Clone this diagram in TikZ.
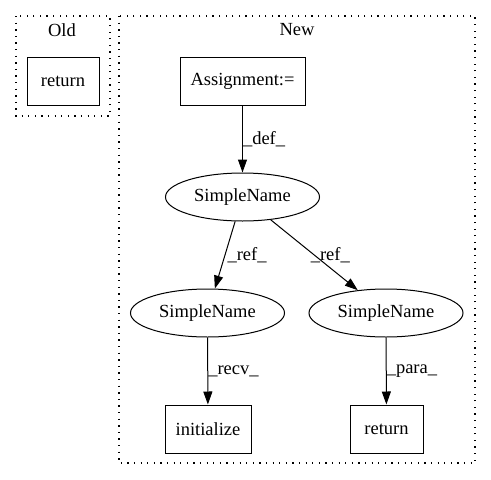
\documentclass[tikz,border=0pt]{standalone}
\usepackage{fontspec}
\setmainfont{Liberation Serif}
\usepackage{tikz}
\usetikzlibrary{shapes,arrows.meta,positioning,calc}

\begin{document}
\begin{tikzpicture}[x=1pt, y=-1pt, font=\fontsize{18.5}{21}\selectfont, line width=1pt,
    box/.style={rectangle, draw, minimum height=48pt, inner sep=0pt},
    sname/.style={ellipse, draw, minimum width=154pt, minimum height=48pt, inner sep=0pt},
    cluster/.style={draw, line width=1.3pt, dash pattern=on 1.3pt off 5.3pt},
    arrow/.style={-{Triangle[length=13pt,width=9pt]}},
    lbl/.style={right, inner sep=0pt}]

    \useasboundingbox (0,0) rectangle (491,480);

    % clusters
    \draw[cluster] (16,16) rectangle (110,116);
    \draw[cluster] (119,16) rectangle (475,463);
    \node (oldlbl) at (62,30) {Old};
    \node (newlbl) at (297,30) {New};

    \node[box, minimum width=72pt] (oldret) at (63,81) {return};

    \node[box, minimum width=125pt] (assign) at (242.5,81) {Assignment:=};
    \node[sname] (sntop) at (242.5,197) {SimpleName};
    \node[sname] (snleft) at (207.5,313) {SimpleName};
    \node[sname] (snright) at (386,313) {SimpleName};
    \node[box, minimum width=86pt] (init) at (208,429) {initialize};
    \node[box, minimum width=73pt] (ret) at (386.5,429) {return};

    \draw[arrow] (assign) -- node[lbl, pos=0.5] {\_def\_} (sntop);
    \draw[arrow] (sntop) -- node[lbl, pos=0.5, xshift=2pt] {\_ref\_} (snleft);
    \draw[arrow] (sntop) -- node[lbl, pos=0.5, xshift=-4pt] {\_ref\_} (snright);
    \draw[arrow] (snleft) -- node[lbl, pos=0.5] {\_recv\_} (init);
    \draw[arrow] (snright) -- node[lbl, pos=0.5] {\_para\_} (ret);
\end{tikzpicture}
\end{document}
